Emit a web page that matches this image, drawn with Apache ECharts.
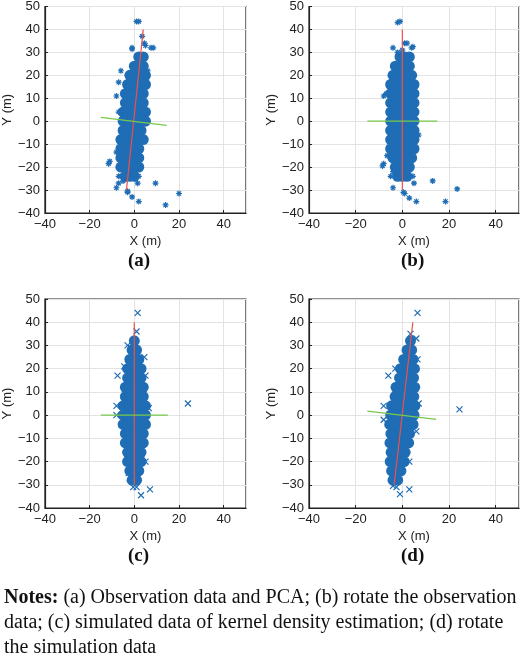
<!DOCTYPE html>
<html>
<head>
<meta charset="utf-8">
<script src="https://cdn.jsdelivr.net/npm/echarts@6/dist/echarts.min.js"></script>
<style>html,body{margin:0;padding:0;background:#fff}#main{width:520px;height:655px}</style>
</head>
<body>
<div id="main"></div>
<script>
// dense cores (big dots) and scattered markers, per panel
const coreA = [[2,28],[4,28],[0,24],[2,24],[4,24],[-2,20],[0,20],[2,20],[4,20],[5,20],
  [-3,16],[-1,16],[1,16],[3,16],[5,16],[-4,12],[-2,12],[0,12],[2,12],[4,12],
  [-4,8],[-2,8],[0,8],[2,8],[4,8],[-5,4],[-3,4],[-1,4],[1,4],[3,4],[5,4],
  [-5,0],[-3,0],[-1,0],[1,0],[3,0],[5,0],[-5,-4],[-3,-4],[-1,-4],[1,-4],[3,-4],
  [-6,-8],[-4,-8],[-2,-8],[0,-8],[2,-8],[4,-8],[-6,-12],[-4,-12],[-2,-12],[0,-12],[2,-12],
  [-6,-16],[-4,-16],[-2,-16],[0,-16],[2,-16],[-6,-20],[-4,-20],[-2,-20],[0,-20],[2,-20],
  [-4,-24],[-2,-24],[0,-24]];
const outA = [[1,43.5],[2,43.5],[3.5,37],[4.5,34],[5,33],[7.5,32],[8.5,32],[-1,32],[-1,31.5],
  [-8,11],[-7,4],[-11,-17.5],[-11.5,-18.5],[-8,-13.5],[-7,-24],[-6,-24],[-7,-27],[-8,-29],
  [-3,-31],[-3,-30.5],[-1,-33],[2,-35],[1.5,-27],[9.5,-27],[14,-36.5],[20,-31.5],[2,-24],
  [6,22],[5.5,20],[-6,22],[-7,17],[-7,-20],[-5,-26]];
const coreB = [[-1,28],[1,28],[3,28],[-3,24],[-1,24],[1,24],[3,24],[-4,20],[-2,20],[0,20],[2,20],[4,20],
  [-5,16],[-3,16],[-1,16],[1,16],[3,16],[5,16],[-5,12],[-3,12],[-1,12],[1,12],[3,12],[5,12],
  [-5,8],[-3,8],[-1,8],[1,8],[3,8],[5,8],[-5,4],[-3,4],[-1,4],[1,4],[3,4],[5,4],
  [-5,0],[-3,0],[-1,0],[1,0],[3,0],[5,0],[-5,-4],[-3,-4],[-1,-4],[1,-4],[3,-4],[5,-4],
  [-5,-8],[-3,-8],[-1,-8],[1,-8],[3,-8],[5,-8],[-5,-12],[-3,-12],[-1,-12],[1,-12],[3,-12],[5,-12],
  [-4,-16],[-2,-16],[0,-16],[2,-16],[4,-16],[-3,-20],[-1,-20],[1,-20],[3,-20],[-2,-24],[0,-24],[2,-24]];
const outB = [[-2,43],[-1,43.5],[-4,32],[1,34],[2,34],[4,32],[4.5,32.5],[-2,30],[0,31],[-8,11],[-7,12],
  [7,-6],[-6.5,-15],[-8,-18.5],[-8.5,-19.5],[-4,-22],[-5,-24],[-3,-24],[4.5,-24],[5,-27],[-4,-29],
  [0.5,-31],[1,-31.5],[3,-33.5],[6,-35],[13,-26],[23.5,-29.5],[18.5,-35]];
const coreC = [[0,32],[-1,28],[1,28],[-2,24],[0,24],[2,24],[-3,20],[-1,20],[1,20],[3,20],
  [-3,16],[-1,16],[1,16],[3,16],[-4,12],[-2,12],[0,12],[2,12],[4,12],[-4,8],[-2,8],[0,8],[2,8],[4,8],
  [-5,4],[-3,4],[-1,4],[1,4],[3,4],[5,4],[-5,0],[-3,0],[-1,0],[1,0],[3,0],[5,0],
  [-5,-4],[-3,-4],[-1,-4],[1,-4],[3,-4],[5,-4],[-4,-8],[-2,-8],[0,-8],[2,-8],[4,-8],
  [-4,-12],[-2,-12],[0,-12],[2,-12],[4,-12],[-3,-16],[-1,-16],[1,-16],[3,-16],
  [-3,-20],[-1,-20],[1,-20],[3,-20],[-2,-24],[0,-24],[2,-24],[-1,-28],[1,-28]];
const outC = [[1.5,44],[1,36],[-3,30],[-1.5,29],[4.5,25],[-4.5,21],[-7.5,17],[5,17],[-8,4],[6.5,3],
  [-8,0],[24,5],[5,-20],[-2.5,-25],[1.5,-25],[-0.5,-31],[1,-31],[7,-32],[3,-34.5],[-1,-23]];
const coreD = [[3.5,32],[2,28],[4,28],[0.6,24],[2.6,24],[4.6,24],[-0.8,20],[1.2,20],[3.2,20],[5.2,20],
  [-1.2,16],[0.8,16],[2.8,16],[4.8,16],[-2.7,12],[-0.7,12],[1.3,12],[3.3,12],[5.3,12],
  [-3.1,8],[-1.1,8],[0.9,8],[2.9,8],[4.9,8],[-4.6,4],[-2.6,4],[-0.6,4],[1.4,4],[3.4,4],[5.4,4],
  [-5,0],[-3,0],[-1,0],[1,0],[3,0],[5,0],[-5.4,-4],[-3.4,-4],[-1.4,-4],[0.6,-4],[2.6,-4],[4.6,-4],
  [-4.9,-8],[-2.9,-8],[-0.9,-8],[1.1,-8],[3.1,-8],[-5.3,-12],[-3.3,-12],[-1.3,-12],[0.7,-12],[2.7,-12],
  [-4.8,-16],[-2.8,-16],[-0.8,-16],[1.2,-16],[-5.2,-20],[-3.2,-20],[-1.2,-20],[0.8,-20],
  [-4.6,-24],[-2.6,-24],[-0.6,-24],[-4,-28],[-2,-28]];
const outD = [[6.5,44],[3.5,35],[6,33],[6.5,24],[-3,20],[-6,17],[7,5],[24.5,2.5],[-8,4],[-8,-2],
  [6,-7],[3,-20],[-3,-25],[-4,-30.5],[-2.5,-31],[-1,-34],[3,-32]];
const redLines = [[[-3.5,-30],[4,40]],[[0,-30],[0,40]],[[0,-30],[0,40]],[[-3.5,-30],[4.5,40]]];
const greenLines = [[[-15,1.7],[14.5,-1.8]],[[-15,0],[15,0]],[[-15,0],[15,0]],[[-15,1.7],[14.5,-1.8]]];
const panelLabels = ['(a)','(b)','(c)','(d)'];

const blue = '#1f6db5';
const star = 'path://M0,5L10,5M5,0L5,10M1.5,1.5L8.5,8.5M8.5,1.5L1.5,8.5';
const cross = 'path://M0,0L10,10M10,0L0,10';
const cores = [coreA, coreB, coreC, coreD];
const outs = [outA, outB, outC, outD];
const boxes = [[36,4],[309,4],[36,299],[309,299]];
const font = 'Liberation Sans';
const fmt = v => v < 0 ? '\u2212' + Math.abs(v) : String(v);

const grid = [], xAxis = [], yAxis = [], series = [], graphic = [];
boxes.forEach((b, i) => {
  grid.push({left: b[0], top: b[1], width: 210, height: 209, show: true, borderColor: '#222', borderWidth: 1.2});
  xAxis.push({gridIndex: i, type: 'value', min: -40, max: 50, interval: 20, name: 'X (m)',
    nameLocation: 'middle', nameGap: 22, nameTextStyle: {fontFamily: font, fontSize: 13, color: '#222'},
    axisLine: {show: true, onZero: false, lineStyle: {color: '#222', width: 1.2}},
    axisTick: {show: true, inside: true, length: 3, lineStyle: {color: '#222'}},
    axisLabel: {fontFamily: font, fontSize: 13, color: '#222', margin: 5, formatter: fmt, showMaxLabel: false},
    splitLine: {lineStyle: {color: '#e3e3e3'}}});
  yAxis.push({gridIndex: i, type: 'value', min: -40, max: 50, interval: 10, name: 'Y (m)',
    nameLocation: 'middle', nameGap: 26, nameTextStyle: {fontFamily: font, fontSize: 13, color: '#222'},
    axisLine: {show: true, onZero: false, lineStyle: {color: '#222', width: 1.2}},
    axisTick: {show: true, inside: true, length: 3, lineStyle: {color: '#222'}},
    axisLabel: {fontFamily: font, fontSize: 13, color: '#222', margin: 5, formatter: fmt},
    splitLine: {lineStyle: {color: '#e3e3e3'}}});
  series.push({type: 'scatter', xAxisIndex: i, yAxisIndex: i, data: cores[i], symbol: 'circle',
    symbolSize: 11, itemStyle: {color: blue, opacity: 1, borderWidth: 0}, silent: true});
  series.push({type: 'scatter', xAxisIndex: i, yAxisIndex: i, data: outs[i], symbol: i < 2 ? star : cross,
    symbolSize: 6, itemStyle: {color: 'none', borderColor: blue, borderWidth: 1.2, opacity: 1}, silent: true});
  series.push({type: 'line', xAxisIndex: i, yAxisIndex: i, data: redLines[i], symbol: 'none',
    lineStyle: {color: '#f0504a', width: 1.2}, silent: true});
  series.push({type: 'line', xAxisIndex: i, yAxisIndex: i, data: greenLines[i], symbol: 'none',
    lineStyle: {color: '#77c94a', width: 1.2}, silent: true});
  graphic.push({type: 'text', left: b[0] + 105 - 13, top: b[1] + 248,
    style: {text: panelLabels[i], font: 'bold 19px "Liberation Serif"', fill: '#111'}});
});
graphic.push({type: 'text', left: 4, top: 585, style: {
  text: '{b|Notes:} (a) Observation data and PCA; (b) rotate the observation\ndata; (c) simulated data of kernel density estimation; (d) rotate\nthe simulation data',
  font: '20px "Liberation Serif"', fill: '#111', lineHeight: 25,
  rich: {b: {font: 'bold 20px "Liberation Serif"', fill: '#111'}}}});

const chart = echarts.init(document.getElementById('main'));
chart.setOption({animation: false, grid, xAxis, yAxis, series, graphic});
</script>
</body>
</html>
